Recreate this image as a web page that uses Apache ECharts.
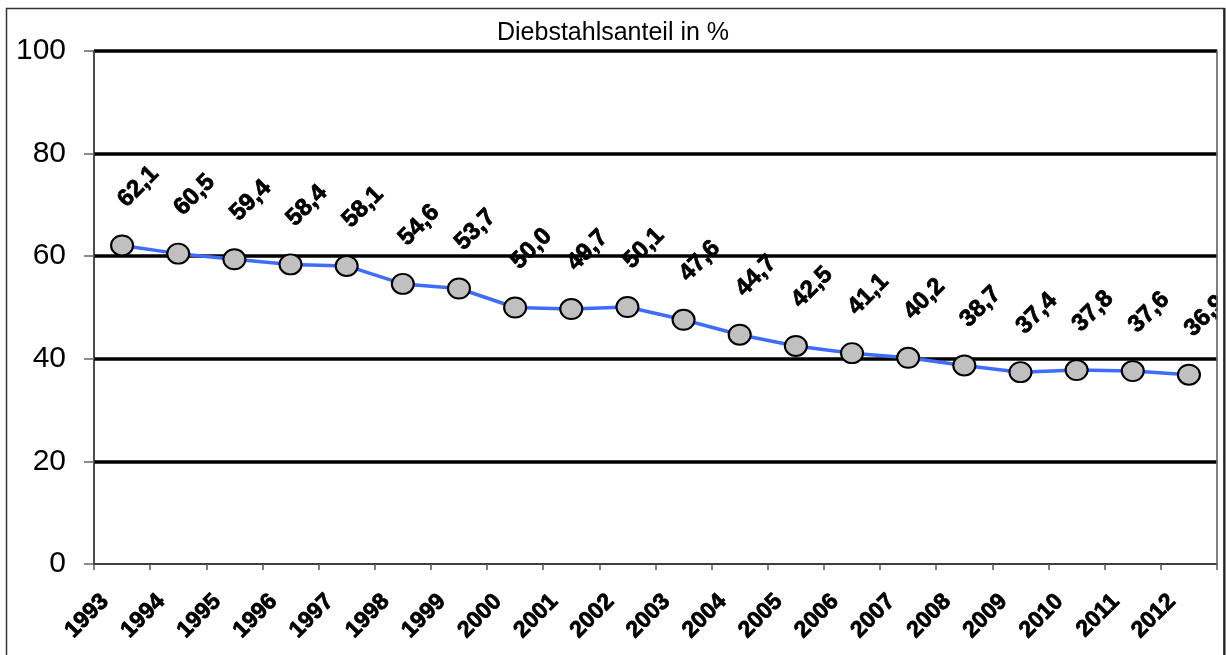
<!DOCTYPE html>
<html>
<head>
<meta charset="utf-8">
<script src="https://cdn.jsdelivr.net/npm/echarts@6/dist/echarts.min.js"></script>
<style>
  html, body { margin: 0; padding: 0; background: #fff; }
  #chart { width: 1226px; height: 655px; }
</style>
</head>
<body>
<div id="chart"></div>
<script>
// Share of thefts among all recorded offences, per year
const years = ['1993', '1994', '1995', '1996', '1997', '1998', '1999', '2000', '2001', '2002',
               '2003', '2004', '2005', '2006', '2007', '2008', '2009', '2010', '2011', '2012'];
const theftShare = [62.1, 60.5, 59.4, 58.4, 58.1, 54.6, 53.7, 50.0, 49.7, 50.1,
                    47.6, 44.7, 42.5, 41.1, 40.2, 38.7, 37.4, 37.8, 37.6, 36.9];
const yTicks = { min: 0, max: 100, step: 20 };
const chartTitle = 'Diebstahlsanteil in %';

const FONT = '"Liberation Sans", Arial, Helvetica, sans-serif';
const chart = echarts.init(document.getElementById('chart'), null, { renderer: 'canvas' });

const plot = { left: 94, top: 51, width: 1123, height: 513 };

chart.setOption({
  backgroundColor: '#fff',
  animation: false,
  title: {
    text: chartTitle,
    left: 'center',
    top: 16,
    textStyle: { fontFamily: FONT, fontSize: 25, fontWeight: 'normal', color: '#000' }
  },
  grid: {
    left: plot.left, top: plot.top, width: plot.width, height: plot.height,
    show: true, borderColor: '#777', borderWidth: 1.5, backgroundColor: 'transparent'
  },
  xAxis: {
    type: 'category',
    data: years,
    boundaryGap: true,
    axisLine: { lineStyle: { color: '#222', width: 1.5 } },
    axisTick: { show: true, length: 6, lineStyle: { color: '#555', width: 1.5 } },
    axisLabel: {
      interval: 0,
      rotate: 45,
      margin: 17,
      padding: [0, 24, 0, 0],
      fontFamily: FONT,
      fontSize: 23,
      fontWeight: 'bold',
      color: '#000',
      textBorderColor: '#000',
      textBorderWidth: 0.8
    },
    splitLine: { show: false }
  },
  yAxis: {
    type: 'value',
    min: yTicks.min,
    max: yTicks.max,
    interval: yTicks.step,
    axisLine: { show: true, lineStyle: { color: '#333', width: 1.5 } },
    axisTick: { show: true, inside: false, length: 10, lineStyle: { color: '#666', width: 1.5 } },
    axisLabel: { margin: 28, fontFamily: FONT, fontSize: 30, color: '#000' },
    splitLine: { show: true, showMinLine: false, lineStyle: { color: '#000', width: 3.5 } }
  },
  series: [{
    type: 'line',
    data: theftShare,
    symbol: 'circle',
    symbolSize: [22, 20],
    z: 3,
    lineStyle: { color: '#3d6cff', width: 3.5 },
    itemStyle: { color: '#c0c0c0', borderColor: '#000', borderWidth: 2 },
    label: {
      show: true,
      position: 'inside',
      rotate: 45,
      offset: [53, -30],
      align: 'center',
      verticalAlign: 'middle',
      fontFamily: FONT,
      fontSize: 24,
      fontWeight: 'bold',
      color: '#000',
      textBorderColor: '#000',
      textBorderWidth: 0.8,
      formatter: p => p.value.toFixed(1).replace('.', ',')
    },
    emphasis: { disabled: true }
  }],
  graphic: [
    // keep labels from spilling past the right edge of the plot
    {
      type: 'rect', z: 100,
      shape: { x: plot.left + plot.width + 1, y: 9, width: 8, height: plot.top + plot.height - 9 },
      style: { fill: '#fff' }
    },
    {
      type: 'line', z: 101,
      shape: { x1: plot.left + plot.width, y1: plot.top, x2: plot.left + plot.width, y2: plot.top + plot.height },
      style: { stroke: '#777', lineWidth: 1.5 }
    },
    // outer chart frame
    {
      type: 'rect', z: 102,
      shape: { x: 6.5, y: 8.5, width: 1217.5, height: 660 },
      style: { fill: 'none', stroke: '#333', lineWidth: 1.5 }
    },
    {
      type: 'line', z: 103,
      shape: { x1: 1224.5, y1: 8, x2: 1224.5, y2: 655 },
      style: { stroke: '#222', lineWidth: 2 }
    }
  ]
});
</script>
</body>
</html>
